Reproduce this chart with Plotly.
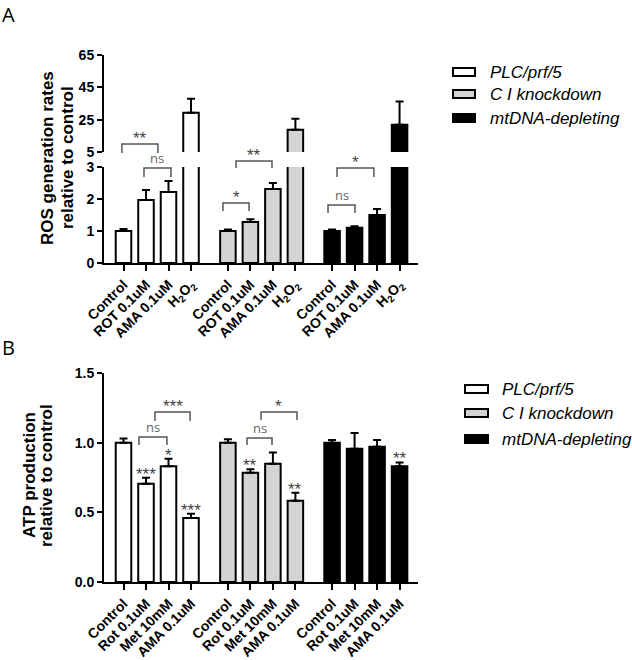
import plotly.graph_objects as go

W, H = 632, 660

# ---------------- data ----------------
groups = ["PLC/prf/5", "C I knockdown", "mtDNA-depleting"]
group_colors = ["#ffffff", "#d4d4d4", "#000000"]

ros_labels = ["Control", "ROT 0.1uM", "AMA 0.1uM", "H<sub>2</sub>O<sub>2</sub>"]
ros_plc = [1.0, 1.97, 2.22, 29.3]
ros_plc_err = [0.06, 0.31, 0.34, 8.7]
ros_ci = [1.0, 1.28, 2.31, 18.8]
ros_ci_err = [0.05, 0.09, 0.19, 6.8]
ros_mt = [1.0, 1.1, 1.5, 21.9]
ros_mt_err = [0.05, 0.05, 0.19, 14.4]

atp_labels = ["Control", "Rot 0.1uM", "Met 10mM", "AMA 0.1uM"]
atp_plc = [1.0, 0.705, 0.83, 0.46]
atp_plc_err = [0.03, 0.043, 0.055, 0.03]
atp_ci = [1.0, 0.784, 0.849, 0.583]
atp_ci_err = [0.025, 0.026, 0.08, 0.057]
atp_mt = [1.0, 0.957, 0.97, 0.83]
atp_mt_err = [0.02, 0.113, 0.05, 0.028]

ros_ticks_low = [0, 1, 2, 3]
ros_ticks_high = [5, 25, 45, 65]
atp_ticks = [0, 0.5, 1.0, 1.5]

# ---------------- layout helpers ----------------
group_start = [0.0, 4.64, 9.27]
def xpos(g):
    return [group_start[g] + i for i in range(4)]

def px_x(px):
    return px / W

def px_y(py):
    return 1 - py / H

X_RANGE = [-0.867, 13.089]
BAR_W = 0.69

fig = go.Figure()

ros_vals = [ros_plc, ros_ci, ros_mt]
ros_errs = [ros_plc_err, ros_ci_err, ros_mt_err]
atp_vals = [atp_plc, atp_ci, atp_mt]
atp_errs = [atp_plc_err, atp_ci_err, atp_mt_err]

def add_bars(vals, errs, yaxis, xaxis):
    for g in range(3):
        fig.add_trace(go.Bar(
            x=xpos(g), y=vals[g], width=BAR_W, name=groups[g],
            xaxis=xaxis, yaxis=yaxis, showlegend=False,
            marker=dict(color=group_colors[g], line=dict(color="black", width=2)),
            error_y=dict(type="data", array=errs[g], arrayminus=[0] * 4,
                         symmetric=False, color="black", thickness=2, width=4),
        ))

add_bars(ros_vals, ros_errs, "y", "x")
add_bars(ros_vals, ros_errs, "y2", "x")
add_bars(atp_vals, atp_errs, "y3", "x3")

all_x = xpos(0) + xpos(1) + xpos(2)
xtickfont = dict(family="Liberation Sans, Arial", size=14, color="black", weight="bold")
ytickfont = dict(family="Liberation Sans, Arial", size=14, color="black", weight="bold")
axis_common = dict(showline=True, linewidth=2, linecolor="black", ticks="outside",
                   tickwidth=2, tickcolor="black", showgrid=False, zeroline=False,
                   automargin=False)

fig.update_layout(
    width=W, height=H, margin=dict(l=0, r=0, t=0, b=0, autoexpand=False),
    paper_bgcolor="white", plot_bgcolor="white", barmode="overlay",
    showlegend=False,
    xaxis=dict(domain=[px_x(104), px_x(418)], anchor="y", range=X_RANGE,
               tickvals=all_x, ticktext=ros_labels * 3, tickangle=-45, ticklen=6,
               tickfont=xtickfont, **axis_common),
    yaxis=dict(domain=[px_y(263), px_y(167)], anchor="x", range=[0, 3],
               tickvals=ros_ticks_low, ticklen=5, tickfont=ytickfont, **axis_common),
    yaxis2=dict(domain=[px_y(152), px_y(55)], anchor="x", range=[5, 65],
                tickvals=ros_ticks_high, ticklen=5, tickfont=ytickfont, **axis_common),
    xaxis3=dict(domain=[px_x(104), px_x(418)], anchor="y3", range=X_RANGE,
                tickvals=all_x, ticktext=atp_labels * 3, tickangle=-45, ticklen=6,
                tickfont=xtickfont, **axis_common),
    yaxis3=dict(domain=[px_y(582), px_y(373)], anchor="x3", range=[0, 1.5],
                tickvals=atp_ticks, tickformat=".1f", ticklen=5, tickfont=ytickfont,
                **axis_common),
)

# ---------------- significance brackets ----------------
star_font = dict(family="Liberation Sans, Arial", size=17, color="#444")
ns_font = dict(family="Open Sans, Noto Sans", size=13, color="#666")

# (xref, x0, x1, bracket_top_px, leg_bottom_px, text)
brackets = [
    ("x", -0.07, 1.53, 144, 153, "**"),
    ("x", 0.91, 2.11, 168, 177, "ns"),
    ("x", 4.42, 5.58, 203, 211, "*"),
    ("x", 5.0, 6.6, 161, 168, "**"),
    ("x", 9.49, 11.13, 168, 177, "*"),
    ("x", 9.09, 10.29, 205, 213, "ns"),
    ("x3", 0.69, 1.93, 437, 445, "ns"),
    ("x3", 1.4, 2.96, 412, 421, "***"),
    ("x3", 5.49, 6.6, 438, 445, "ns"),
    ("x3", 6.11, 7.71, 412, 420, "*"),
]
for xr, x0, x1, yt, yb, txt in brackets:
    fig.add_shape(type="path", xref=xr, yref="paper",
                  path=f"M {x0},{px_y(yb)} L {x0},{px_y(yt)} L {x1},{px_y(yt)} L {x1},{px_y(yb)}",
                  line=dict(color="#555", width=1.5))
    is_ns = txt == "ns"
    fig.add_annotation(xref=xr, yref="paper", x=(x0 + x1) / 2, y=px_y(yt),
                       text=txt, showarrow=False, yanchor="bottom",
                       yshift=-1 if is_ns else -6,
                       font=ns_font if is_ns else star_font)

# stars directly above bars (group, bar index, text)
bar_stars = [(0, 1, "***"), (0, 2, "*"), (0, 3, "***"), (1, 1, "**"), (1, 3, "**"), (2, 3, "**")]
for g, i, txt in bar_stars:
    fig.add_annotation(xref="x3", yref="y3", x=xpos(g)[i],
                       y=atp_vals[g][i] + atp_errs[g][i], text=txt, showarrow=False,
                       yanchor="bottom", yshift=-8, font=star_font)

# ---------------- axis titles ----------------
title_font = dict(family="Liberation Sans, Arial", size=17, color="black", weight="bold")
for x, y, txt in [(47, 158, "ROS generation rates"), (67, 158, "relative to control"),
                  (29, 475, "ATP production"), (46, 476, "relative to control")]:
    fig.add_annotation(xref="paper", yref="paper", x=px_x(x), y=px_y(y), text=txt,
                       textangle=-90, showarrow=False, xanchor="center", yanchor="middle",
                       font=title_font)

# panel letters
for x, y, txt in [(1, 0, "A"), (1, 333, "B")]:
    fig.add_annotation(xref="paper", yref="paper", x=px_x(x), y=px_y(y), text=txt,
                       showarrow=False, xanchor="left", yanchor="top", borderpad=0,
                       font=dict(family="Open Sans, Noto Sans", size=20, color="black"))

# ---------------- legends ----------------
leg_font = dict(family="Liberation Sans, Arial", size=17, color="black", style="italic")
for (bx0, bx1, tx, ys) in [(453, 475, 488, [72, 94, 118]), (465, 488, 500, [389, 413, 439])]:
    for g in range(3):
        yc = ys[g]
        fig.add_shape(type="rect", xref="paper", yref="paper",
                      x0=px_x(bx0), x1=px_x(bx1), y0=px_y(yc + 4), y1=px_y(yc - 4),
                      fillcolor=group_colors[g], line=dict(color="black", width=2))
        fig.add_annotation(xref="paper", yref="paper", x=px_x(tx), y=px_y(yc),
                           text=groups[g], showarrow=False, xanchor="left", yanchor="middle",
                           font=leg_font)

fig.write_html("out.html", config={"displayModeBar": False},
               post_script="document.body.style.margin='0';document.body.style.overflow='hidden';")
